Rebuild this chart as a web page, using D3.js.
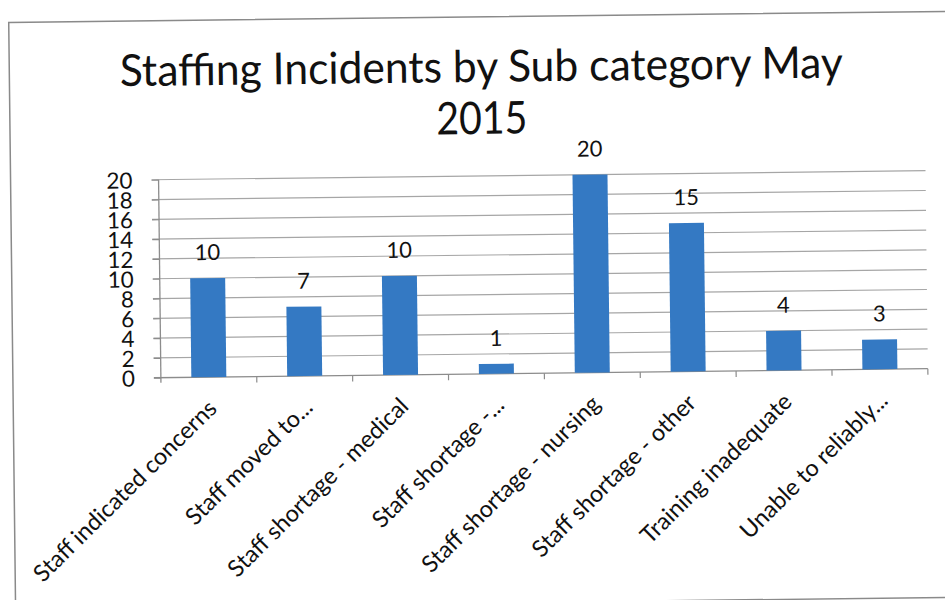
<!DOCTYPE html>
<html>
<head>
<meta charset="utf-8">
<script src="https://cdn.jsdelivr.net/npm/d3@7"></script>
<style>
  html, body { margin: 0; padding: 0; background: #fff; }
  svg { display: block; }
  text { font-family: Lato, "Open Sans", sans-serif; fill: #111; }
</style>
</head>
<body>
<svg id="chart" width="945" height="600"></svg>
<script>
const titleLines = ["Staffing Incidents by Sub category May", "2015"];
const categories = [
  "Staff indicated concerns",
  "Staff moved to...",
  "Staff shortage - medical",
  "Staff shortage -...",
  "Staff shortage - nursing",
  "Staff shortage - other",
  "Training inadequate",
  "Unable to reliably..."
];
const values = [10, 7, 10, 1, 20, 15, 4, 3];
const yTicks = [0, 2, 4, 6, 8, 10, 12, 14, 16, 18, 20];

const svg = d3.select("#chart");
// the scanned chart is slightly tilted
const g = svg.append("g").attr("transform", "rotate(-0.67 472 300)");

// outer frame
g.append("rect")
  .attr("x", 12).attr("y", 17).attr("width", 960).attr("height", 586)
  .attr("fill", "none").attr("stroke", "#8a8a8a").attr("stroke-width", 1.5);

const plot = { left: 160, right: 927, top: 176, bottom: 374 };

const x = d3.scaleBand().domain(categories)
  .range([plot.left, plot.right]).paddingInner(0.635).paddingOuter(0.3175);
const y = d3.scaleLinear().domain([0, 20]).range([plot.bottom, plot.top]);

// gridlines
g.append("g").selectAll("line").data(yTicks.filter(d => d > 0)).join("line")
  .attr("x1", plot.left - 7).attr("x2", plot.right)
  .attr("y1", d => y(d)).attr("y2", d => y(d))
  .attr("stroke", "#a6a6a6").attr("stroke-width", 1.2);

// y axis
const yAxis = d3.axisLeft(y).tickValues(yTicks).tickSize(7).tickPadding(19);
const ya = g.append("g").attr("transform", `translate(${plot.left},0)`).call(yAxis);
ya.select(".domain").attr("stroke", "#8c8c8c").attr("stroke-width", 1.3)
  .attr("d", `M0,${plot.top}V${plot.bottom + 5}`);
ya.selectAll(".tick line").attr("stroke", "#8c8c8c").attr("stroke-width", 1.2);
ya.selectAll(".tick text")
  .style("font-family", "Lato, 'Open Sans', sans-serif")
  .style("font-size", "22.5px").attr("fill", "#111").attr("dy", "0.36em");

// x axis baseline & boundary ticks
const xa = g.append("g").attr("transform", `translate(0,${plot.bottom})`);
xa.append("line").attr("x1", plot.left - 7).attr("x2", plot.right)
  .attr("stroke", "#8c8c8c").attr("stroke-width", 1.3);
const step = x.step();
xa.selectAll("line.b").data(d3.range(1, categories.length + 1)).join("line")
  .attr("class", "b")
  .attr("x1", i => plot.left + i * step).attr("x2", i => plot.left + i * step)
  .attr("y1", 0).attr("y2", 6)
  .attr("stroke", "#8c8c8c").attr("stroke-width", 1.2);

// bars
g.append("g").selectAll("rect").data(values).join("rect")
  .attr("x", (d, i) => x(categories[i]))
  .attr("width", x.bandwidth())
  .attr("y", d => y(d))
  .attr("height", d => y(0) - y(d))
  .attr("fill", "#3479c3");

// data labels
g.append("g").selectAll("text").data(values).join("text")
  .attr("x", (d, i) => x(categories[i]) + x.bandwidth() / 2)
  .attr("y", d => y(d) - 18)
  .attr("text-anchor", "middle")
  .style("font-size", "22px")
  .text(d => d);

// category labels
g.append("g").selectAll("text").data(categories).join("text")
  .attr("transform", d => `translate(${x(d) + x.bandwidth() / 2 + 9},${plot.bottom + 33}) rotate(-44)`)
  .attr("text-anchor", "end")
  .style("font-size", "23.5px")
  .text(d => d);

// title
const tg = g.append("g");
tg.append("text").attr("x", 484).attr("y", 82).attr("text-anchor", "middle")
  .style("font-size", "44px")
  .attr("textLength", 723).attr("lengthAdjust", "spacingAndGlyphs")
  .text(titleLines[0]);
tg.append("text").attr("x", 484).attr("y", 134).attr("text-anchor", "middle")
  .style("font-size", "45px")
  .attr("textLength", 91).attr("lengthAdjust", "spacingAndGlyphs")
  .text(titleLines[1]);
</script>
</body>
</html>
